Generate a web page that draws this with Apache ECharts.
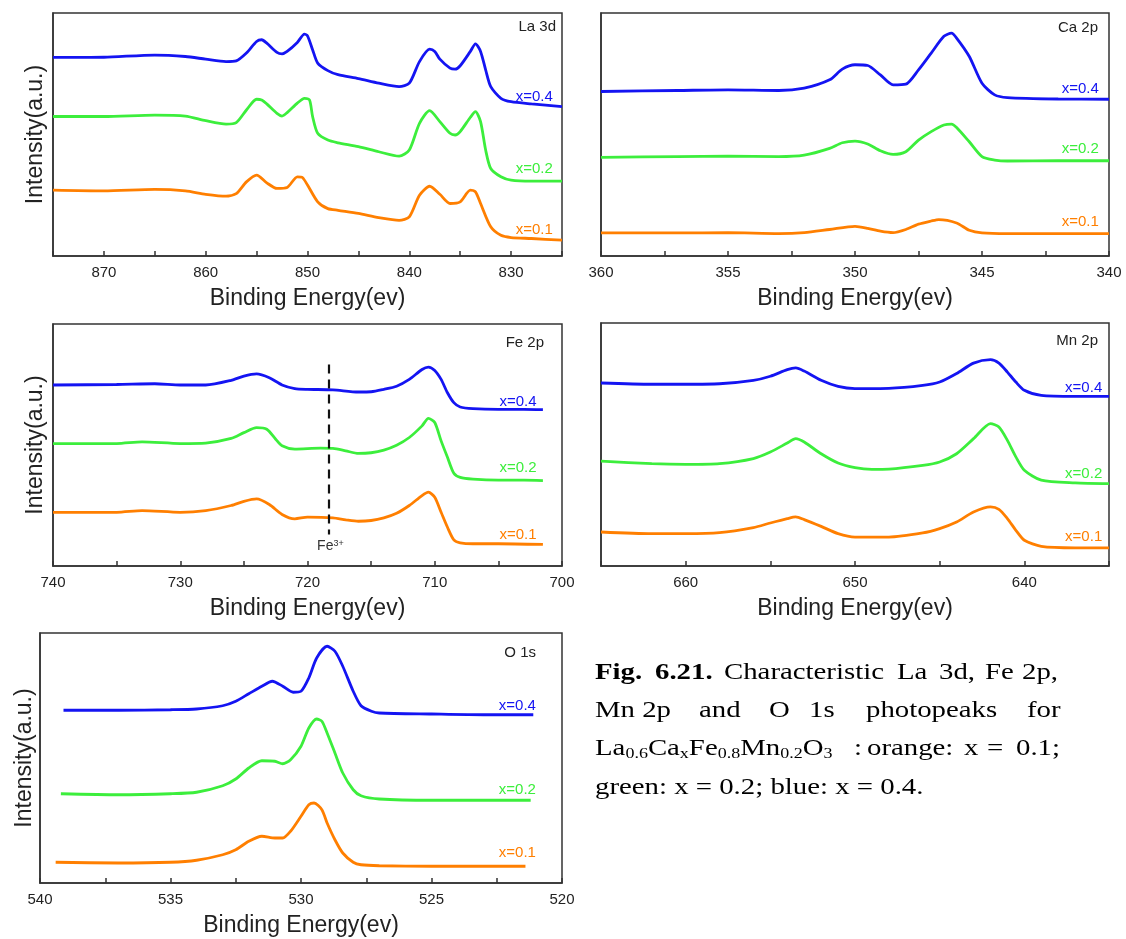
<!DOCTYPE html>
<html><head><meta charset="utf-8">
<script src="https://cdn.jsdelivr.net/npm/echarts/dist/echarts.min.js"></script>
<style>html,body{margin:0;padding:0;background:#fff}#c{width:1126px;height:939px}</style>
</head><body><div id="c"></div><script>
// ---- DATA: [binding energy (eV), intensity (a.u., stacked offset, 0-100 panel scale)] ----
const laX04 = [[875,81.7],[870,81.8],[865,82.7],[862,82.1],[860,81],[858,80],[857,80.3],[856,83.5],[855,88.3],[854.5,89],[854,87.6],[853,83.8],[852.5,83.2],[852,84.2],[851,87.9],[850.3,91.3],[850,90.6],[849.5,84.9],[849,79.4],[848,76.3],[847,74.6],[845,73],[843,71.1],[841,69.7],[840,71.1],[839,80],[838,85.1],[837.5,84.2],[837,81],[836,77.3],[835.5,76.9],[835,78.3],[834,84.2],[833.5,87.3],[833,84.2],[832.5,76.6],[832,69.7],[831,64.9],[830,63.5],[828,62.6],[825,61.5]];
const laX02 = [[875,57.4],[870,57.4],[865,58],[862,57.6],[860,55.7],[858,54.3],[857,54.9],[856,60.1],[855,64.5],[854.5,64.2],[854,62.6],[853,58.7],[852.5,57.6],[852,59],[851,62.9],[850.3,64.9],[849.8,64.2],[849.5,57.4],[849,50.5],[848,47.7],[847,46.6],[845,45],[843,42.9],[841,41.1],[840,43.6],[839,54.6],[838,59.8],[837,55.3],[836,50.5],[835.5,49.8],[835,51.2],[834,57.1],[833.5,59.4],[833,55.3],[832.5,43.6],[832,36],[831,32.6],[830,31.2],[828,30.8],[825,30.8]];
const laX01 = [[875,27.1],[870,26.8],[865,27.4],[862,26.8],[860,25.4],[858,24.6],[857,25.7],[856,30.5],[855,33.3],[854,30.1],[853,27.8],[852,28.2],[851,32.6],[850.5,32.3],[850,29.2],[849,22.3],[848,19.5],[847,18.8],[845,17.5],[843,15.8],[841,14.7],[840,16.1],[839,25],[838,28.7],[837,25.4],[836,21.6],[835,22.3],[834,27.1],[833.5,26.4],[833,21.6],[832,12],[831,8.5],[830,7.6],[828,7.2],[825,6.5]];

const caX04 = [[360,67.7],[357,68.1],[355,68.4],[353,68.1],[352,69.1],[351,72.5],[350.5,76.9],[350,78.7],[349.5,78.4],[349,74.5],[348.5,70.4],[348,70.7],[347.5,76.6],[347,83.5],[346.5,90.4],[346.2,91.7],[346,89.7],[345.5,82.1],[345,71.1],[344.5,66.3],[344,65.2],[342,64.6],[340,64.5]];
const caX02 = [[360,40.6],[357,40.9],[355,41.1],[353,40.9],[352,41.5],[351,44.3],[350.5,46.6],[350,47.3],[349.5,46.1],[349,43.3],[348.5,41.8],[348,42.9],[347.5,47.7],[347,51.2],[346.5,53.9],[346.2,54.3],[346,52.9],[345.5,47],[345,40.9],[344.5,39.5],[344,39.1],[342,39.2],[340,39.2]];
const caX01 = [[360,9.5],[357,9.5],[355,9.6],[353,9.2],[352,9.6],[351,10.9],[350,12.2],[349.5,11.4],[349,10.2],[348.5,9.6],[348,10.9],[347.5,13.1],[347,14.4],[346.7,15],[346,13.6],[345.5,10.6],[345,9.5],[344,9.2],[342,9.2],[340,9.2]];

const feX04 = [[740,74.8],[735,75],[732,75.3],[730,74.8],[728,74.8],[726,76.7],[725,78.5],[724,79.4],[723,77.8],[722,74.8],[721,73.3],[720,73],[718,72.8],[716,71.9],[715,72],[714,73],[713,74.3],[712,77.1],[711,81.2],[710.5,82.2],[710,80.8],[709.5,77.1],[709,71.6],[708.5,67.5],[708,65.7],[707,65],[705,64.7],[703,64.7],[701.5,64.6]];
const feX02 = [[740,50.6],[735,50.6],[733,51.3],[730,50.6],[728,50.8],[726,52.7],[725,55.1],[724,57.2],[723.2,56.5],[722.5,52.4],[722,49.7],[721,48.3],[719,48.7],[718,48.6],[717,47.6],[716,46.5],[715,46.8],[714,47.9],[713,49.9],[712,53.1],[711,57.9],[710.5,61],[710,59.3],[709.5,51.7],[709,44.9],[708.5,38.3],[708,36.6],[707,35.9],[705,35.5],[703,35.5],[701.5,35.3]];
const feX01 = [[740,22.2],[735,22.2],[733,22.9],[730,22.2],[728,22.9],[726,25],[725,26.7],[724,27.7],[723,25.4],[722,21.3],[721,19.5],[720,20.2],[718,19.9],[717,19.1],[716,18.5],[715,18.8],[714,19.9],[713,21.8],[712,25],[711,29.1],[710.5,30.5],[710,28.4],[709.5,22.2],[709,16],[708.5,10.8],[708,9.6],[707,9.2],[705,9.2],[701.5,8.9]];

const mnX04 = [[665,75.3],[662,74.8],[660,74.8],[658,75],[656,76.4],[655,78.1],[654,80.8],[653.5,81.5],[653,80.2],[652,76.4],[651,73.9],[650,73],[648,73.1],[646,74.3],[645,75.7],[644,79.2],[643,83.5],[642,84.9],[641.5,83.5],[641,79.8],[640.5,75.7],[640,72.3],[639,70.2],[637,69.8],[635,69.8]];
const mnX02 = [[665,43.2],[662,42.1],[660,41.8],[658,42.1],[656,44.2],[655,46.9],[654,50.6],[653.5,52.4],[653,51],[652,46.2],[651,42.4],[650,40.5],[649,39.8],[648,39.9],[646,41.4],[645,42.8],[644,46.2],[643,52.4],[642,58.6],[641.5,57.2],[641,51.7],[640.5,44.9],[640,39.4],[639,35.3],[637,34.2],[635,33.9]];
const mnX01 = [[665,14],[662,13.3],[660,13.3],[658,13.7],[656,15.8],[655,17.7],[654,19.5],[653.5,20.2],[653,19.1],[652,16.3],[651,13.3],[650,11.9],[648,11.9],[646,13.6],[645,15.4],[644,18.1],[643,22.2],[642,24.3],[641.5,23.3],[641,19.5],[640.5,14.7],[640,10.6],[639,8.1],[637,7.5],[635,7.5]];

const oX04 = [[539.1,69.1],[537,69.1],[535,69.3],[534,69.6],[533,70.9],[532.5,72.7],[532,75.7],[531.5,78.7],[531.1,80.7],[530.7,78.7],[530.3,76.3],[530,76.7],[529.7,82],[529.4,90],[529,94.7],[528.7,92.7],[528.4,86.7],[528,76.7],[527.7,70.9],[527.3,68.7],[527,68],[525,67.6],[523,67.3],[521.1,67.3]];
const oX02 = [[539.2,35.7],[537,35.3],[535,35.7],[534,36.3],[533,38.9],[532.5,41.6],[532,46],[531.5,48.9],[531,48.7],[530.7,47.7],[530.4,49.3],[530,54.7],[529.7,62],[529.4,65.6],[529.2,64.7],[529,60],[528.7,52],[528.4,44],[528,37.3],[527.7,34.9],[527,33.6],[525,33.1],[523,33.1],[521.2,33.1]];
const oX01 = [[539.4,8.3],[537,8],[535,8.3],[534,9.1],[533,11.3],[532.5,13.3],[532,16.7],[531.5,18.7],[531,18],[530.7,18],[530.4,20.7],[530,26.7],[529.7,31.3],[529.5,32],[529.2,29.3],[529,24],[528.7,17.3],[528.4,12],[528,8.3],[527.7,7.3],[527,6.9],[525,6.7],[523,6.7],[521.4,6.7]];

const panelTitles = ['La 3d', 'Ca 2p', 'Fe 2p', 'Mn 2p', 'O 1s'];
const seriesNames = ['x=0.1', 'x=0.2', 'x=0.4'];
const xName = 'Binding Energy(ev)';
const yName = 'Intensity(a.u.)';

// ---- LAYOUT / STYLE ----
const COLORS = ['#ff7f00', '#3cee3c', '#1414f2'];
const SANS = "'Liberation Sans', Arial, sans-serif";
const SERIF = "'Liberation Serif', 'Times New Roman', serif";

const panels = [
  {grid:{left:53, top:13, width:509, height:243}, min:825, max:875, interval:5, step:10, yName:true, yGap:6,
   data:[laX01, laX02, laX04], lab:[[825.9,10.9],[825.9,36],[825.9,65.6]], title:{right:570, top:19}},
  {grid:{left:601, top:13, width:508, height:243}, min:340, max:360, interval:2.5, step:5, yName:false,
   data:[caX01, caX02, caX04], lab:[[340.4,14],[340.4,44],[340.4,68.6]], title:{right:28, top:20}},
  {grid:{left:53, top:324, width:509, height:242}, min:700, max:740, interval:5, step:10, yName:true, yGap:6,
   data:[feX01, feX02, feX04], lab:[[702,13],[702,40.7],[702,67.9]], title:{right:582, top:335}},
  {grid:{left:601, top:323, width:508, height:243}, min:635, max:665, interval:5, step:10, yName:false,
   data:[mnX01, mnX02, mnX04], lab:[[635.4,11.9],[635.4,38],[635.4,73.4]], title:{right:28, top:333}},
  {grid:{left:40, top:633, width:522, height:250}, min:520, max:540, interval:2.5, step:5, yName:true, yGap:4,
   data:[oX01, oX02, oX04], lab:[[521,12],[521,37.1],[521,70.9]], title:{right:590, top:645}}
];

const grids = [], xAxes = [], yAxes = [], series = [], titles = [];
panels.forEach((p, i) => {
  grids.push(Object.assign({show:true, borderColor:'#333', borderWidth:1.5, backgroundColor:'transparent', containLabel:false}, p.grid));
  xAxes.push({
    type:'value', gridIndex:i, min:p.min, max:p.max, interval:p.interval, inverse:true,
    axisLine:{show:true, onZero:false, lineStyle:{color:'#333', width:1.5}},
    axisTick:{show:true, inside:true, length:5, lineStyle:{color:'#333', width:1.5}},
    splitLine:{show:false},
    axisLabel:{show:true, color:'#222', fontSize:15, fontFamily:SANS, margin:9, showMinLabel:true, showMaxLabel:true,
      formatter:(v) => (Math.abs(v % p.step) < 1e-6 ? String(Math.round(v)) : '')},
    name:xName, nameLocation:'middle', nameGap:31,
    nameTextStyle:{fontSize:23, color:'#222', fontFamily:SANS}
  });
  yAxes.push({
    type:'value', gridIndex:i, min:0, max:100,
    axisLine:{show:true, lineStyle:{color:'#333', width:1.5}},
    axisTick:{show:false}, axisLabel:{show:false}, splitLine:{show:false},
    name: p.yName ? yName : '', nameLocation:'middle', nameGap:p.yGap || 6,
    nameTextStyle:{fontSize:23, color:'#222', fontFamily:SANS}
  });
  titles.push({text:panelTitles[i], right:p.title.right, top:p.title.top, padding:0,
    textStyle:{fontSize:15, fontWeight:'normal', color:'#222', fontFamily:SANS}});
  p.data.forEach((d, k) => {
    series.push({
      type:'line', xAxisIndex:i, yAxisIndex:i, data:d, name:seriesNames[k],
      showSymbol:false, symbol:'none', smooth:0.25, silent:true, animation:false,
      lineStyle:{width:2.8, color:COLORS[k]}, itemStyle:{color:COLORS[k]},
      markPoint:{symbol:'circle', symbolSize:0, silent:true, animation:false,
        data:[{coord:p.lab[k]}],
        label:{show:true, position:'left', distance:0, formatter:seriesNames[k], color:COLORS[k], fontSize:15, fontFamily:SANS}}
    });
  });
});

// Fe3+ dashed marker line and label
series.push({
  type:'line', xAxisIndex:2, yAxisIndex:2, data:[], silent:true, animation:false,
  markLine:{symbol:['none','none'], silent:true, animation:false, label:{show:false},
    lineStyle:{type:[9,6], color:'#111', width:2.2},
    data:[[{coord:[718.3,83.3]},{coord:[718.3,13]}]]},
  markPoint:{symbol:'circle', symbolSize:0, silent:true, animation:false,
    data:[{coord:[718.2,8.1]}],
    label:{show:true, position:'inside', formatter:'Fe{sup|3+}', color:'#333', fontSize:14, fontFamily:SANS,
      rich:{sup:{fontSize:9, verticalAlign:'top', color:'#333', fontFamily:SANS, padding:[0,0,6,0]}}}}
});

// ---- CAPTION ----
const capFont = 24, capScale = 1.2;
function word(x, y, text, bold, rich) {
  return {type:'text', x:x, y:y, scaleX:capScale, silent:true,
    style:{text:text, fill:'#000', fontSize:capFont, fontFamily:SERIF, fontWeight: bold ? 'bold' : 'normal',
      verticalAlign:'middle', align:'left', rich:rich}};
}
const subRich = {s:{fontSize:15, fontFamily:SERIF, fill:'#000', padding:[10,0,0,0]}};
const caption = [
  word(595,673,'Fig.',true), word(655,673,'6.21.',true), word(724,673,'Characteristic'), word(897,673,'La'),
  word(939,673,'3d,'), word(985,673,'Fe'), word(1022,673,'2p,'),
  word(595,711,'Mn 2p'), word(699,711,'and'), word(769,711,'O'), word(809,711,'1s'), word(866,711,'photopeaks'), word(1027,711,'for'),
  word(595,749,'La{s|0.6}Ca{s|x}Fe{s|0.8}Mn{s|0.2}O{s|3}',false,subRich), word(854,749,':'), word(867,749,'orange:'),
  word(964,749,'x'), word(987,749,'='), word(1016,749,'0.1;'),
  word(595,788,'green: x = 0.2; blue: x = 0.4.')
];

const chart = echarts.init(document.getElementById('c'), null, {renderer:'canvas'});
chart.setOption({
  animation:false, backgroundColor:'#fff',
  title:titles, grid:grids, xAxis:xAxes, yAxis:yAxes, series:series, graphic:caption
});
</script></body></html>
